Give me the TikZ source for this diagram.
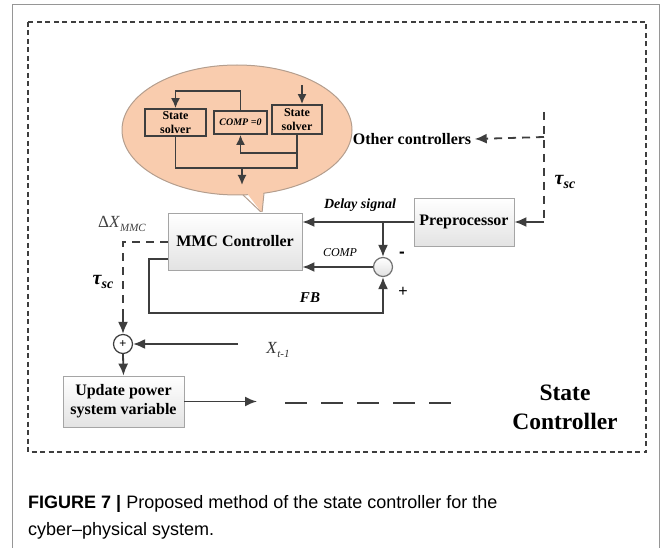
\documentclass[tikz,border=0pt]{standalone}
\usepackage{fontspec}
\setmainfont{Liberation Serif}
\setsansfont{Liberation Sans}
\usetikzlibrary{arrows.meta}

\definecolor{linegray}{RGB}{62,62,62}
\definecolor{boxedge}{RGB}{165,165,165}
\definecolor{bubble}{RGB}{249,204,174}
\definecolor{bubbleedge}{RGB}{180,158,142}
\definecolor{framegray}{RGB}{150,150,150}

\begin{document}
\begin{tikzpicture}[x=1pt,y=-1pt,
    sig/.style={draw=linegray,line width=1.8pt},
    arr/.style={-{Latex[length=12pt,width=10pt]}},
    delayed/.style={sig,dash pattern=on 8pt off 6pt},
    inner/.style={sig,line width=1.7pt},
    iarr/.style={-{Latex[length=10pt,width=9pt]}},
    block/.style={draw=boxedge,line width=0.8pt,top color=white,bottom color=black!11,
        font=\fontsize{16}{19}\selectfont\bfseries,align=center,inner sep=0pt},
    solver/.style={draw=linegray,line width=1.8pt,inner sep=0pt,align=center,
        font=\fontsize{12}{14}\selectfont\bfseries},
    junction/.style={circle,line width=1.2pt,minimum size=19pt,inner sep=0pt}]

    \useasboundingbox (0,0) rectangle (662,548);

    % page frame and the dotted state controller border
    \draw[framegray,line width=1pt] (12,548) -- (12,5) -- (659,5) -- (659,548);
    \draw[linegray,line width=2.2pt,dash pattern=on 5pt off 3.5pt] (28,22) rectangle (646,452);

    % the callout bubble
    \filldraw[fill=bubble,draw=bubbleedge,line width=1pt] (237,130) ellipse [x radius=115,y radius=65];
    \fill[bubble] (243,188) -- (262,213) -- (264,188) -- cycle;
    \draw[bubbleedge,line width=1pt] (243,194.9) -- (262,213) -- (264,193.2);

    % solvers inside the bubble
    \node[solver,minimum width=61pt,minimum height=27pt] (s1) at (175.5,122.5) {State\\solver};
    \node[solver,minimum width=53pt,minimum height=23pt,
        font=\fontsize{10}{12}\selectfont\bfseries\itshape] (cz) at (240.5,122.5) {COMP =0};
    \node[solver,minimum width=50pt,minimum height=29pt] (s2) at (297,119.5) {State\\solver};

    \coordinate (feed) at (302,85);
    \coordinate (merge) at (242,168);
    \draw[inner,iarr] (feed) -- (feed |- s2.north);
    \draw[inner,iarr] (cz.north) -- ++(0,-19) -| (s1.north);
    \draw[inner,iarr] (s2.south) -- ++(0,18) -| (cz.south);
    \draw[inner] (s1.south) |- (merge) -| (s2.south);
    \draw[inner,iarr] (merge) -- ++(0,17);

    % main blocks
    \node[block,minimum width=134pt,minimum height=57pt] (mmc) at (235,241.5) {MMC Controller};
    \node[block,minimum width=100pt,minimum height=48pt] (pre) at (464,222) {Preprocessor};
    \node[block,minimum width=121pt,minimum height=51pt] (upd) at (123.5,401.5) {Update power\\system variable};

    % summing points
    \node[junction,draw=black!55,top color=white,bottom color=black!12] (minus) at (383,267) {};
    \node[junction,draw=linegray,fill=white,font=\fontsize{12}{12}\selectfont\sffamily] (plus) at (123,344) {+};

    % delay signal and compensation
    \draw[sig,arr] (pre.west) -- (pre.west -| mmc.east);
    \draw[sig,arr] (minus.north |- pre.west) -- (minus.north);
    \draw[sig,arr] (minus.west) -- (minus.west -| mmc.east);
    \draw[sig,arr] (mmc.west |- 0,259) -| (149,313) -| (minus.south);

    % delayed output to the update block
    \coordinate (tap) at (123,316);
    \coordinate (xin) at (238,344);
    \draw[delayed] (mmc.west |- 0,242) -| (tap);
    \draw[sig,arr] (tap) -- (plus.north);
    \draw[sig,arr] (xin) -- (plus.east);
    \draw[sig,arr] (plus.south) -- (upd.north);

    \coordinate (out) at (257,401.5);
    \coordinate (link) at (285,403);
    \coordinate (linkend) at (455,403);
    \draw[sig,arr] (upd.east) -- (out);
    \draw[sig,dash pattern=on 22pt off 14pt] (link) -- (linkend);

    % delays from the other controllers
    \node[font=\fontsize{16}{19}\selectfont\bfseries] (others) at (412,139) {Other controllers};
    \coordinate (bus) at (544,112);
    \coordinate (branch) at (544,137);
    \coordinate (busend) at (544,222);
    \draw[delayed] (bus) -- (busend);
    \draw[delayed,arr] (branch) -- (others.east);
    \draw[sig,arr] (busend) -- (pre.east);

    % labels
    \node[font=\fontsize{14}{16}\selectfont\bfseries\itshape] (delaylbl) at (360,205) {Delay signal};
    \node[font=\fontsize{12}{14}\selectfont\itshape] (complbl) at (340,253) {COMP};
    \node[font=\fontsize{15}{17}\selectfont\bfseries\itshape] (fblbl) at (310,298) {FB};
    \node[font=\fontsize{17}{17}\selectfont\sffamily\bfseries] (neg) at (402,255) {-};
    \node[font=\fontsize{16}{16}\selectfont\sffamily] (pos) at (403,292) {+};
    \node[font=\fontsize{20}{20}\selectfont\bfseries\itshape] (taur) at (565,182)
        {τ\raisebox{-0.35ex}{\fontsize{14}{14}\selectfont sc}};
    \node[font=\fontsize{20}{20}\selectfont\bfseries\itshape] (taul) at (103,282)
        {τ\raisebox{-0.35ex}{\fontsize{14}{14}\selectfont sc}};
    \node[font=\fontsize{17}{17}\selectfont,text=black!75] (dxlbl) at (122,224)
        {Δ\textit{X}\raisebox{-0.45ex}{\fontsize{11}{11}\selectfont\itshape MMC}};
    \node[font=\fontsize{17}{17}\selectfont,text=black!80] (xlbl) at (278,350)
        {\textit{X}\raisebox{-0.45ex}{\fontsize{11}{11}\selectfont\itshape t-1}};
    \node[font=\fontsize{23.5}{29}\selectfont\bfseries,align=center] (title) at (565,407.5) {State\\Controller};

    % caption
    \node[anchor=base west,inner sep=0pt,align=left,font=\fontsize{18}{27}\selectfont\sffamily] (caption) at (28,535)
        {\textbf{FIGURE 7 |} Proposed method of the state controller for the\\cyber--physical system.};
\end{tikzpicture}
\end{document}
